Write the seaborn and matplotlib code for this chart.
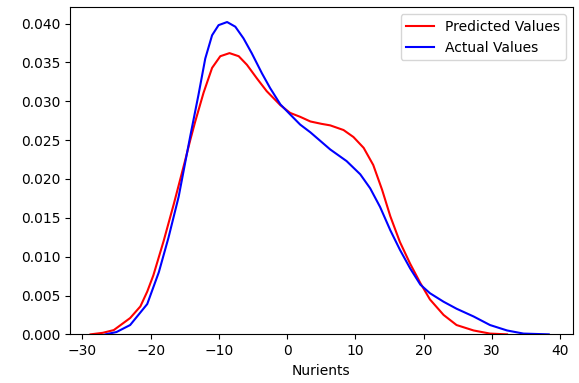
import pandas as pd
import seaborn as sns
import matplotlib.pyplot as plt
from matplotlib.ticker import FormatStrFormatter

# density curves
pred_x = [-28.8, -27.0, -25.4, -23.0, -21.5, -20.5, -19.6, -18.1, -16.6, -15.0,
          -14.2, -13.5, -12.25, -11.0, -9.8, -8.45, -7.1, -5.9, -4.4, -3.0,
          -1.0, 0.44, 1.9, 3.4, 5.0, 6.3, 8.25, 9.7, 11.2, 12.6,
          13.9, 15.1, 16.5, 18.0, 19.5, 20.9, 22.9, 24.8, 27.3, 29.7, 32.2]
pred_y = [0.0, 0.0002, 0.00055, 0.0021, 0.0036, 0.0055, 0.0076, 0.0120, 0.0168, 0.0222,
          0.0250, 0.0273, 0.0311, 0.0343, 0.0358, 0.0362, 0.0358, 0.0347, 0.0329, 0.0313,
          0.0295, 0.0285, 0.0280, 0.0274, 0.0271, 0.0269, 0.0263, 0.0254, 0.0240, 0.0218,
          0.0186, 0.0152, 0.0119, 0.0091, 0.0066, 0.0045, 0.0025, 0.0012, 0.0005, 0.0001, 0.0]

act_x = [-26.6, -25.0, -23.0, -20.5, -18.8, -17.4, -15.9, -14.2, -13.0, -12.0,
         -11.0, -10.05, -8.8, -7.6, -6.4, -5.2, -3.7, -2.5, -1.0, 0.44,
         1.9, 3.4, 6.3, 8.7, 10.7, 12.15, 13.6, 15.1, 16.5, 18.0,
         19.5, 20.9, 22.9, 24.8, 27.3, 29.7, 32.2, 34.6, 38.3]
act_y = [0.0, 0.0003, 0.0012, 0.0039, 0.0080, 0.0124, 0.0177, 0.0255, 0.0308, 0.0355,
         0.0385, 0.0398, 0.0402, 0.0396, 0.0381, 0.0362, 0.0336, 0.0317, 0.0296, 0.0283,
         0.0270, 0.0260, 0.0238, 0.0223, 0.0206, 0.0188, 0.0164, 0.0134, 0.0109, 0.0085,
         0.0064, 0.0053, 0.0042, 0.0033, 0.0023, 0.0012, 0.0005, 0.0001, 0.0]


def main():
    pred = pd.DataFrame({'x': pred_x, 'y': pred_y})
    act = pd.DataFrame({'x': act_x, 'y': act_y})

    fig = plt.figure(figsize=(5.79, 3.83), dpi=100)
    ax = fig.add_axes([0.121, 0.127, 0.868, 0.854])
    sns.lineplot(data=pred, x='x', y='y', color='r', label='Predicted Values', ax=ax,
                 lw=1.5, solid_joinstyle='round')
    sns.lineplot(data=act, x='x', y='y', color='b', label='Actual Values', ax=ax,
                 lw=1.5, solid_joinstyle='round')

    ax.set_ylim(0, 0.0421)
    ax.set_xlim(-31.8, 41.8)
    ax.yaxis.set_major_formatter(FormatStrFormatter('%.3f'))
    ax.set_xlabel('Nurients')
    ax.set_ylabel('')
    ax.legend(loc='upper right')
    fig.savefig('out.png', dpi=100)


if __name__ == '__main__':
    main()
